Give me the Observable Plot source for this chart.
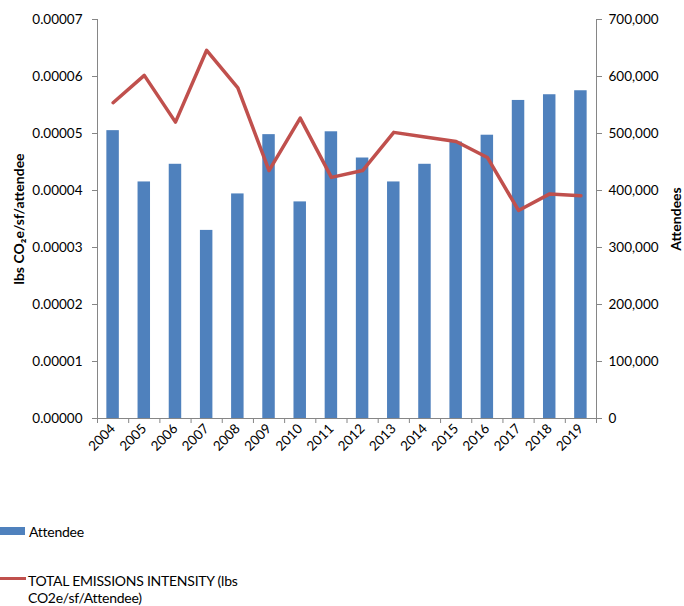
<!DOCTYPE html>
<html><head><meta charset="utf-8">
<script src="https://cdn.jsdelivr.net/npm/d3@7"></script>
<script src="https://cdn.jsdelivr.net/npm/@observablehq/plot@0.6"></script>
<style>
body{margin:0;background:#fff;font-family:Lato,"Open Sans",sans-serif;}
#wrap{position:relative;width:684px;height:606px;overflow:hidden;}
#chart svg{display:block;}
.leg{position:absolute;font-size:14px;color:#000;white-space:nowrap;letter-spacing:-0.25px;}
</style></head><body>
<div id="wrap">
  <div id="chart"></div>
  <div class="leg" style="left:0;top:527px;width:25px;height:8px;background:#4F81BD"></div>
  <div class="leg" style="left:29px;top:522px;line-height:19px;">Attendee</div>
  <div class="leg" style="left:0;top:577px;width:26px;height:3px;background:#C0504D"></div>
  <div class="leg" style="left:28px;top:572px;line-height:17px;">TOTAL EMISSIONS INTENSITY (lbs<br>CO2e/sf/Attendee)</div>
</div>
<script>
const years = [2004,2005,2006,2007,2008,2009,2010,2011,2012,2013,2014,2015,2016,2017,2018,2019];
const attendees = [505000,415000,446000,330000,394000,498000,380000,503000,457000,415000,446000,485000,497000,558000,568000,575000];
const intensity = [0.0000554,0.0000602,0.0000520,0.0000646,0.0000580,0.0000435,0.0000527,0.0000423,0.0000435,0.0000502,0.0000494,0.0000486,0.0000458,0.0000365,0.0000394,0.0000391];
const leftTicks = [0,0.00001,0.00002,0.00003,0.00004,0.00005,0.00006,0.00007];

const rows = years.map((y, i) => ({year: y, att: attendees[i], int: intensity[i]}));
const K = 0.00007 / 700000; // right axis (attendees) mapped onto left axis range
const boundaries = d3.range(years.length + 1).map(i => years[0] - 0.5 + i);
const axisGray = "#868686";

const chart = Plot.plot({
  width: 684, height: 490,
  marginLeft: 97, marginRight: 88, marginTop: 19, marginBottom: 72,
  style: {fontFamily: "Lato, 'Open Sans', sans-serif", fontSize: "13.5px", color: "#000", background: "white"},
  x: {domain: [years[0] - 0.5, years[years.length - 1] + 0.5]},
  y: {domain: [0, 0.00007]},
  marks: [
    Plot.rect(rows, {x1: d => d.year - 0.2, x2: d => d.year + 0.2, y1: 0, y2: d => d.att * K, fill: "#4F81BD"}),
    Plot.line(rows, {x: "year", y: "int", stroke: "#C0504D", strokeWidth: 3.5, strokeLinejoin: "round", strokeLinecap: "round"}),
    Plot.ruleY([0], {stroke: axisGray}),
    Plot.ruleX([boundaries[0], boundaries[boundaries.length - 1]], {stroke: axisGray}),
    Plot.axisY(leftTicks, {anchor: "left", tickFormat: d3.format(".5f"), tickSize: 5, tickPadding: 10, stroke: axisGray, label: null}),
    Plot.axisY(leftTicks, {anchor: "right", tickFormat: d => d3.format(",")(Math.round(d / K)), tickSize: 5, tickPadding: 7, stroke: axisGray, label: null}),
    Plot.axisX(boundaries, {tickFormat: () => "", tickSize: 5, stroke: axisGray, label: null}),
    Plot.axisX(years, {tickFormat: d => String(d), tickSize: 0, tickRotate: -45, tickPadding: 8, label: null}),
    Plot.text(["lbs CO₂e/sf/attendee"], {text: d => d, frameAnchor: "left", dx: -78, rotate: -90, textAnchor: "middle", lineAnchor: "middle", fontWeight: "bold", fontSize: 14}),
    Plot.text(["Attendees"], {text: d => d, frameAnchor: "right", dx: 80, rotate: -90, textAnchor: "middle", lineAnchor: "middle", fontWeight: "bold", fontSize: 14})
  ]
});
document.getElementById("chart").appendChild(chart);
</script>
</body></html>
